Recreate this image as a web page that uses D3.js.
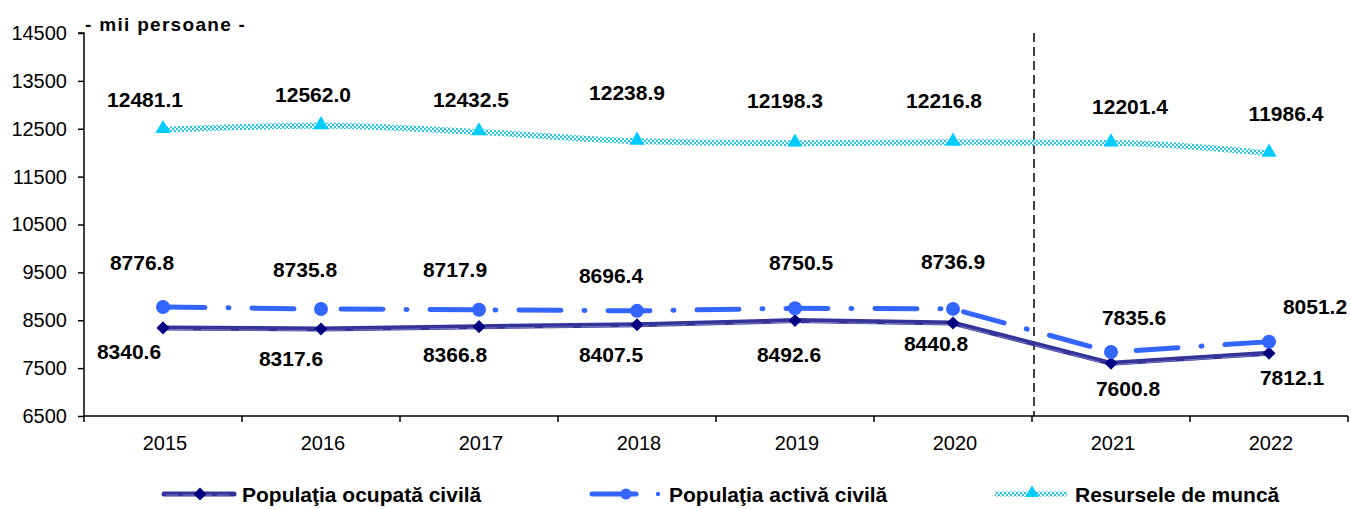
<!DOCTYPE html>
<html><head><meta charset="utf-8">
<script src="https://cdn.jsdelivr.net/npm/d3@7/dist/d3.min.js"></script>
<style>
body{margin:0;background:#fff;}
text{font-family:Arial,"Liberation Sans",sans-serif;}
</style></head><body>
<svg id="chart" width="1351" height="509"></svg>
<script>
const years = ["2015","2016","2017","2018","2019","2020","2021","2022"];
const ocupata = [8340.6,8317.6,8366.8,8407.5,8492.6,8440.8,7600.8,7812.1];
const activa = [8776.8,8735.8,8717.9,8696.4,8750.5,8736.9,7835.6,8051.2];
const resurse = [12481.1,12562.0,12432.5,12238.9,12198.3,12216.8,12201.4,11986.4];
const yTicks = [6500,7500,8500,9500,10500,11500,12500,13500,14500];
const seriesNames = ["Populaţia ocupată civilă","Populaţia activă civilă","Resursele de muncă"];
const unitLabel = "- mii persoane -";
// label offsets (pixels) relative to point
const resLabOff = [[-18,-30],[-8,-31],[-8,-32],[-10,-49],[-10,-43],[-9,-42],[19,-37],[17,-40]];
const actLabOff = [[-21,-44],[-16,-39],[-24,-40],[-26,-35],[6,-46],[0,-47],[23,-35],[46,-35]];
const ocuLabOff = [[-34,24],[-30,30],[-24,28],[-26,30],[-6,34],[-17,20],[17,25],[23,24]];

const svg = d3.select("#chart");
const x = d3.scaleBand().domain(years).range([84,1348]);
const y = d3.scaleLinear().domain([6500,14500]).range([416,33]);

// pattern for resurse
const defs = svg.append("defs");
const pat = defs.append("pattern").attr("id","chk").attr("width",4).attr("height",4).attr("patternUnits","userSpaceOnUse");
pat.append("rect").attr("width",4).attr("height",4).attr("fill","#ffffff");
pat.append("rect").attr("width",2).attr("height",2).attr("fill","#22c8f0");
pat.append("rect").attr("x",2).attr("y",2).attr("width",2).attr("height",2).attr("fill","#22c8f0");

// axes
const yAxis = d3.axisLeft(y).tickValues(yTicks).tickSize(6).tickFormat(d3.format("d"));
const gy = svg.append("g").attr("transform","translate(84,0)").call(yAxis);
gy.selectAll("text").attr("font-size","20px").attr("fill","#000").attr("x",-17);
gy.selectAll("line").attr("stroke","#000").attr("stroke-width",1.5);
gy.select(".domain").attr("stroke","#000").attr("stroke-width",1.5).attr("d","M-6,33H0V416");

const xAxis = d3.axisBottom(x).tickSize(0);
const gx = svg.append("g").attr("transform","translate(0,416)").call(xAxis);
gx.select(".domain").attr("stroke","#000").attr("stroke-width",1.5).attr("d","M84,0H1348");
gx.selectAll("text").attr("font-size","20px").attr("fill","#000").attr("y",34).attr("dy",0).attr("dx",2);
// category boundary ticks
const bounds = years.map(d=>x(d)).concat([x.range()[1]]);
gx.selectAll(".bt").data(bounds).enter().append("line").attr("class","bt")
  .attr("x1",d=>d).attr("x2",d=>d).attr("y1",0).attr("y2",6).attr("stroke","#000").attr("stroke-width",1.5);

// vertical dashed line
svg.append("line").attr("x1",x("2021")+2).attr("x2",x("2021")+2).attr("y1",33).attr("y2",416)
  .attr("stroke","#000").attr("stroke-width",1.5).attr("stroke-dasharray","9,5");

// title
svg.append("text").attr("x",85).attr("y",31).attr("font-size","19px").attr("font-weight","bold")
  .attr("letter-spacing","1.3px").text(unitLabel);

const cx = d=>x(d)+x.bandwidth()/2;

// resurse line (smooth)
const smooth = d3.line().x((d,i)=>cx(years[i])).y(d=>y(d)).curve(d3.curveMonotoneX);
const straight = d3.line().x((d,i)=>cx(years[i])).y(d=>y(d));
svg.append("path").attr("d",smooth(resurse)).attr("fill","none").attr("stroke","url(#chk)").attr("stroke-width",6);
const tri = d3.symbol().type(d3.symbolTriangle).size(100);
svg.selectAll(".tri").data(resurse).enter().append("path")
  .attr("d",tri).attr("fill","#00ccff").attr("transform",(d,i)=>`translate(${cx(years[i])},${y(d)-1})`);

// ocupata line
svg.append("path").attr("d",straight(ocupata)).attr("fill","none").attr("stroke","#333399").attr("stroke-width",5);
svg.append("path").attr("d",straight(ocupata)).attr("fill","none").attr("stroke","#7a7ac4").attr("stroke-width",1)
  .attr("stroke-dasharray","30,8").attr("transform","translate(0,1.5)");
const dia = d3.symbol().type(d3.symbolSquare).size(85);
svg.selectAll(".dia").data(ocupata).enter().append("path")
  .attr("d",dia).attr("fill","#000080").attr("transform",(d,i)=>`translate(${cx(years[i])},${y(d)}) rotate(45)`);

// activa line
svg.append("path").attr("d",straight(activa)).attr("fill","none").attr("stroke","#3366ff").attr("stroke-width",5)
  .attr("stroke-linecap","round").attr("stroke-dasharray","42,23,1,23");
svg.selectAll(".cir").data(activa).enter().append("circle")
  .attr("cx",(d,i)=>cx(years[i])).attr("cy",d=>y(d)).attr("r",7).attr("fill","#3366ff");

// labels
function labels(data, off, cls){
  svg.selectAll("."+cls).data(data).enter().append("text").attr("class",cls)
    .attr("x",(d,i)=>cx(years[i])+off[i][0]).attr("y",(d,i)=>y(d)+off[i][1])
    .attr("text-anchor","middle").attr("font-size","21px").attr("font-weight","bold")
    .attr("dominant-baseline","central").text(d=>d.toFixed(1));
}
labels(resurse,resLabOff,"rl");
labels(activa,actLabOff,"al");
labels(ocupata,ocuLabOff,"ol");

// legend
const lg = svg.append("g");
const ly = 494;
// ocupata
lg.append("line").attr("x1",164).attr("x2",234).attr("y1",ly).attr("y2",ly).attr("stroke","#333399").attr("stroke-width",5).attr("stroke-linecap","round");
lg.append("line").attr("x1",166).attr("x2",232).attr("y1",ly+1).attr("y2",ly+1).attr("stroke","#7a7ac4").attr("stroke-width",1).attr("stroke-dasharray","12,5");
lg.append("path").attr("d",dia).attr("fill","#000080").attr("transform",`translate(200,${ly}) rotate(45)`);
lg.append("text").attr("x",242).attr("y",ly).attr("dominant-baseline","central").attr("font-size","21px").attr("font-weight","bold").text(seriesNames[0]);
// activa
lg.append("line").attr("x1",592).attr("x2",636).attr("y1",ly).attr("y2",ly).attr("stroke","#3366ff").attr("stroke-width",5).attr("stroke-linecap","round");
lg.append("circle").attr("cx",626).attr("cy",ly).attr("r",5.5).attr("fill","#3366ff");
lg.append("circle").attr("cx",658).attr("cy",ly).attr("r",2.2).attr("fill","#3366ff");
lg.append("text").attr("x",669).attr("y",ly).attr("dominant-baseline","central").attr("font-size","21px").attr("font-weight","bold").text(seriesNames[1]);
// resurse
lg.append("line").attr("x1",995).attr("x2",1067).attr("y1",ly).attr("y2",ly).attr("stroke","url(#chk)").attr("stroke-width",5);
lg.append("path").attr("d",d3.symbol().type(d3.symbolTriangle).size(80)).attr("fill","#00ccff").attr("transform",`translate(1032,${ly-1})`);
lg.append("text").attr("x",1075).attr("y",ly).attr("dominant-baseline","central").attr("font-size","21px").attr("font-weight","bold").text(seriesNames[2]);
</script></body></html>
